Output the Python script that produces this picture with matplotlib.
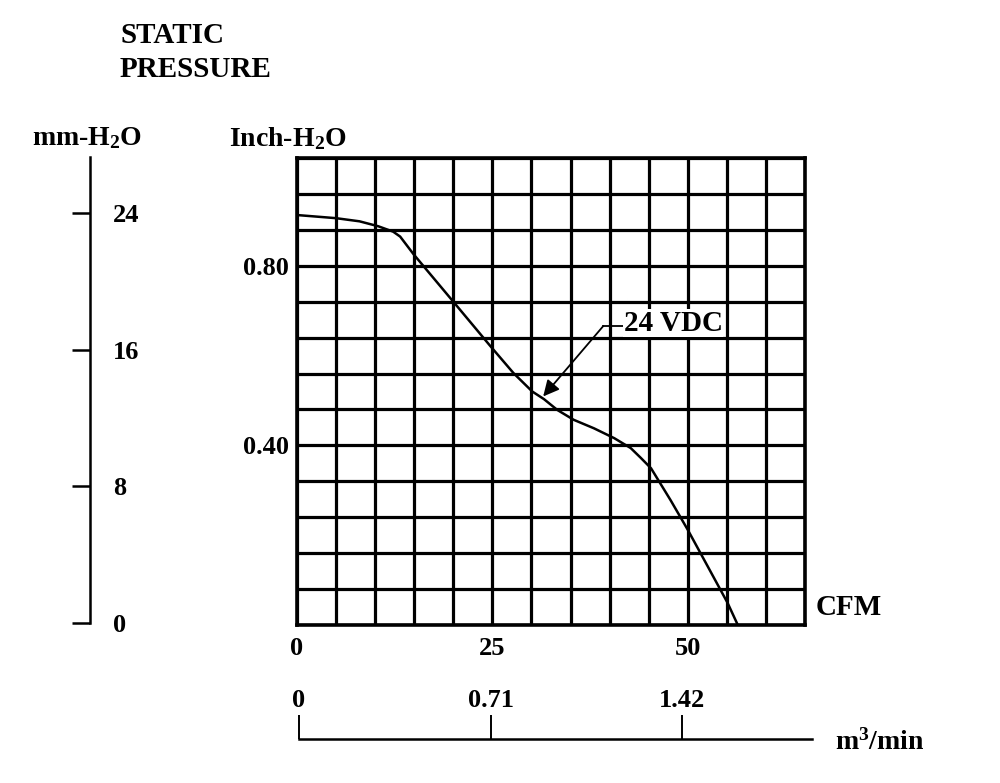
import matplotlib
matplotlib.use("Agg")
import matplotlib.pyplot as plt
import numpy as np

plt.rcParams['font.family'] = ['Liberation Serif', 'DejaVu Serif']
plt.rcParams['font.weight'] = 'bold'
plt.rcParams['mathtext.fontset'] = 'custom'
plt.rcParams['mathtext.rm'] = 'Liberation Serif:bold'
plt.rcParams['mathtext.bf'] = 'Liberation Serif:bold'
plt.rcParams['mathtext.default'] = 'rm'

# fan curve: airflow (CFM) vs static pressure (inch H2O)
cfm = [0, 5, 8, 10.4, 12.3, 13.2, 14.9, 20.0, 24.7, 27.7, 30.1, 31.6, 33.3,
       35.4, 38.0, 40.6, 42.7, 44.0, 45.3, 47.8, 50.0, 52.6, 55.1, 56.4]
pressure = [0.913, 0.906, 0.899, 0.888, 0.876, 0.865, 0.826, 0.720, 0.622, 0.561,
            0.520, 0.503, 0.479, 0.457, 0.438, 0.416, 0.394, 0.372, 0.349, 0.278,
            0.212, 0.129, 0.049, 0.0]

x_labels = {0: '0', 25: '25', 50: '50'}
y_labels = {0.40: '0.40', 0.80: '0.80'}
mm_ticks = [0, 8, 16, 24]
m3_ticks = [0, 0.71, 1.42]
m3_labels = ['0', '0.71', '1.42']

fig = plt.figure(figsize=(10, 7.83), dpi=100)

# main grid chart
ax = fig.add_axes([0.297, 0.2018, 0.508, 0.5964])
ax.set_xlim(0, 65)
ax.set_ylim(0, 1.04)
xt = np.arange(0, 66, 5)
yt = np.round(np.arange(0, 1.041, 0.08), 2)
ax.set_xticks(xt)
ax.set_xticklabels([x_labels.get(int(v), '') for v in xt])
ax.set_yticks(yt)
ax.set_yticklabels([y_labels.get(round(v, 2), '') for v in yt])
ax.tick_params(length=0, labelsize=19)
ax.tick_params(axis='x', pad=9)
ax.tick_params(axis='y', pad=6)
ax.grid(True, color='black', linewidth=2.3)
for s in ax.spines.values():
    s.set_linewidth(2.6)
ax.set_axisbelow(True)
ax.plot(cfm, pressure, color='black', linewidth=1.8, zorder=3,
        solid_joinstyle='round')

# 24 VDC callout with bent leader
ax.plot([39.2, 41.8], [0.666, 0.666], color='black', linewidth=1.3, zorder=4)
ax.annotate('', xy=(31.5, 0.509), xytext=(39.2, 0.666),
            arrowprops=dict(arrowstyle='-|>', color='black', lw=1.3,
                            mutation_scale=24, shrinkA=0, shrinkB=0), zorder=4)
ax.text(41.8, 0.672, '24 VDC', fontsize=21, fontweight='bold', va='center',
        ha='left', zorder=5,
        bbox=dict(facecolor='white', edgecolor='none', pad=0.5))
ax.text(66.3, 0.04, 'CFM', fontsize=21, fontweight='bold', va='center', ha='left')

# mm-H2O scale on the far left
axm = fig.add_axes([0.090, 0.2043, 0.005, 0.5952])
axm.set_ylim(0, 27.3)
axm.set_xticks([])
axm.set_yticks(mm_ticks)
axm.set_yticklabels([str(v) for v in mm_ticks])
for k in ['top', 'right', 'bottom']:
    axm.spines[k].set_visible(False)
axm.spines['left'].set_linewidth(1.8)
axm.tick_params(axis='y', direction='out', length=13, width=1.8, left=True,
                labelleft=False, labelright=True, pad=0, labelsize=19)
axm.patch.set_alpha(0)

# m3/min scale at the bottom
axb = fig.add_axes([0.299, 0.0562, 0.513, 0.002])
axb.set_xlim(0, 1.90)
axb.set_yticks([])
axb.set_xticks(m3_ticks)
axb.set_xticklabels(m3_labels)
for k in ['top', 'right', 'left']:
    axb.spines[k].set_visible(False)
axb.spines['bottom'].set_linewidth(1.8)
axb.tick_params(axis='x', direction='in', length=17, width=1.4, bottom=True,
                labelbottom=False, labeltop=True, pad=18, labelsize=19)
axb.patch.set_alpha(0)

# headings
fig.text(0.120, 0.955, 'STATIC', fontsize=21, fontweight='bold', va='center', ha='left')
fig.text(0.120, 0.911, 'PRESSURE', fontsize=21, fontweight='bold', va='center', ha='left')
fig.text(0.032, 0.823, 'mm-H$_2$O', fontsize=20, fontweight='bold', va='center', ha='left')
fig.text(0.229, 0.823, 'Inch-H$_2$O', fontsize=20, fontweight='bold', va='center', ha='left')
fig.text(0.835, 0.052, 'm$^3$/min', fontsize=20, fontweight='bold', va='center', ha='left')

fig.savefig('out.png', dpi=100, facecolor='white')
